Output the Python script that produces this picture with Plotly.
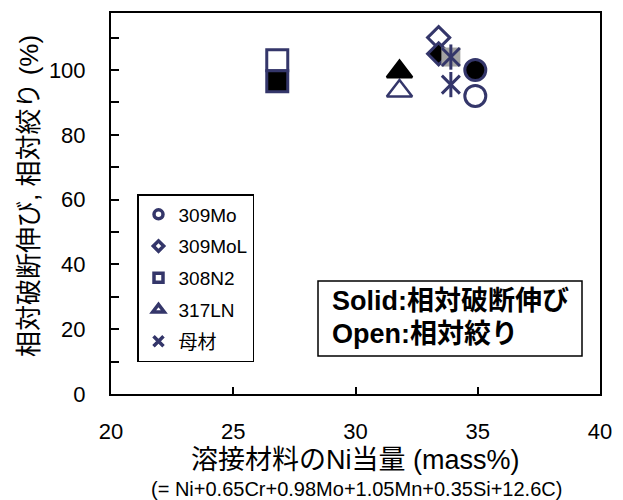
import plotly.graph_objects as go

# Weld metals and base metal, Ni equivalent (mass%)
materials = ["309Mo", "309MoL", "308N2", "317LN", "母材"]
ni_equiv = [34.9, 33.4, 26.8, 31.8, 33.9]
# Relative elongation at rupture (%), solid markers
rel_elongation = [100.0, 105.0, 96.5, 99.5, 104.0]
# Relative reduction of area (%), open markers
rel_reduction = [92.0, 110.0, 103.0, 93.5, 95.5]

x_ticks = [20, 25, 30, 35, 40]
y_ticks = [0, 20, 40, 60, 80, 100]

NAVY = "#34366a"
GRAY = "#a3a3a3"
FONT = "Arial, 'Liberation Sans', 'Noto Sans CJK JP', sans-serif"

symbols = {
    "309Mo": ("circle", 21, 3),
    "309MoL": ("diamond", 17, 3),
    "308N2": ("square", 21, 3),
    "317LN": ("triangle-up", 22, 2.5),
}

fig = go.Figure()

for i, name in enumerate(materials):
    x = ni_equiv[i]
    if name in symbols:
        sym, size, lw = symbols[name]
        # open marker: relative reduction of area
        fig.add_trace(go.Scatter(
            x=[x], y=[rel_reduction[i]], mode="markers", showlegend=False,
            marker=dict(symbol=sym + "-open", size=size, color=NAVY,
                        line=dict(color=NAVY, width=lw)),
        ))
        # solid marker: relative elongation
        fig.add_trace(go.Scatter(
            x=[x], y=[rel_elongation[i]], mode="markers", showlegend=False,
            marker=dict(symbol=sym, size=size, color="black",
                        line=dict(color=NAVY if sym != "triangle-up" else "black", width=lw)),
        ))
    else:
        # base metal: six-armed star, the solid one on a gray square
        fig.add_trace(go.Scatter(
            x=[x], y=[rel_elongation[i]], mode="markers", showlegend=False,
            marker=dict(symbol="square", size=19, color=GRAY, line=dict(width=0)),
        ))
        for yv in (rel_elongation[i], rel_reduction[i]):
            for sym in ("x-thin-open", "line-ns-open"):
                fig.add_trace(go.Scatter(
                    x=[x], y=[yv], mode="markers", showlegend=False,
                    marker=dict(symbol=sym, size=18, color=NAVY,
                                line=dict(color=NAVY, width=3)),
                ))

# legend entries
legend_symbols = ["circle-open", "diamond-open", "square-open", "triangle-up-open", "x-thin-open"]
legend_sizes = [9, 8, 9, 10, 10]
for name, sym, sz in zip(materials, legend_symbols, legend_sizes):
    fig.add_trace(go.Scatter(
        x=[None], y=[None], mode="markers", name=name, legendgroup=name,
        marker=dict(symbol=sym, size=sz, color=NAVY, line=dict(color=NAVY, width=3.5)),
    ))

W, H = 623, 500
L, R, T, B = 111, 23, 13, 106
PW, PH = W - L - R, H - T - B


def px(xp):
    return (xp - L) / PW


def py(yp):
    return (H - B - yp) / PH


fig.add_shape(type="rect", xref="paper", yref="paper",
              x0=px(318), x1=px(582), y0=py(356), y1=py(281),
              line=dict(color="black", width=1.5), fillcolor="white", layer="below")
fig.add_annotation(xref="paper", yref="paper", x=px(330), y=py(301), xanchor="left", yanchor="middle",
                   text="<b>Solid</b><b>:相対破断伸び</b>", showarrow=False,
                   font=dict(family=FONT, size=27, color="black"))
fig.add_annotation(xref="paper", yref="paper", x=px(330), y=py(334), xanchor="left", yanchor="middle",
                   text="<b>Open</b><b>:相対絞り</b>", showarrow=False,
                   font=dict(family=FONT, size=27, color="black"))

fig.add_annotation(xref="paper", yref="paper", x=px(355), y=py(460), xanchor="center", yanchor="middle",
                   text="溶接材料のNi当量 (mass%)", showarrow=False,
                   font=dict(family=FONT, size=27, color="black"))
fig.add_annotation(xref="paper", yref="paper", x=px(356), y=py(489), xanchor="center", yanchor="middle",
                   text="(= Ni+0.65Cr+0.98Mo+1.05Mn+0.35Si+12.6C)", showarrow=False,
                   font=dict(family=FONT, size=20, color="black"))
fig.add_annotation(xref="paper", yref="paper", x=px(29), y=py(196), xanchor="center", yanchor="middle",
                   text="相対破断伸び, 相対絞り (%)", showarrow=False, textangle=-90,
                   font=dict(family=FONT, size=26, color="black"))

fig.update_layout(
    width=W, height=H,
    margin=dict(l=L, r=R, t=T, b=B, autoexpand=False),
    paper_bgcolor="white", plot_bgcolor="white",
    font=dict(family=FONT, color="black"),
    showlegend=True,
    legend=dict(
        x=px(137), y=py(194), xanchor="left", yanchor="top",
        bordercolor="black", borderwidth=1.5, bgcolor="white",
        font=dict(family=FONT, size=19, color="black"),
        traceorder="grouped", tracegroupgap=4, itemwidth=30,
    ),
    xaxis=dict(
        range=[20, 40], tickvals=x_ticks, ticktext=[str(v) for v in x_ticks],
        ticks="inside", ticklen=7, tickwidth=2, tickcolor="black",
        showline=True, linewidth=2, linecolor="black", mirror=True,
        showgrid=False, zeroline=False, ticklabelstandoff=17,
        tickfont=dict(family=FONT, size=22, color="black"),
    ),
    yaxis=dict(
        range=[0, 117.6], tickvals=y_ticks, ticktext=[str(v) for v in y_ticks],
        ticks="inside", ticklen=8, tickwidth=2, tickcolor="black",
        minor=dict(dtick=10, tick0=0, ticks="inside", ticklen=8, tickwidth=2, tickcolor="black"),
        showline=True, linewidth=2, linecolor="black", mirror=True,
        showgrid=False, zeroline=False, ticklabelstandoff=19,
        tickfont=dict(family=FONT, size=22, color="black"),
    ),
)

fig.write_html("out.html")
